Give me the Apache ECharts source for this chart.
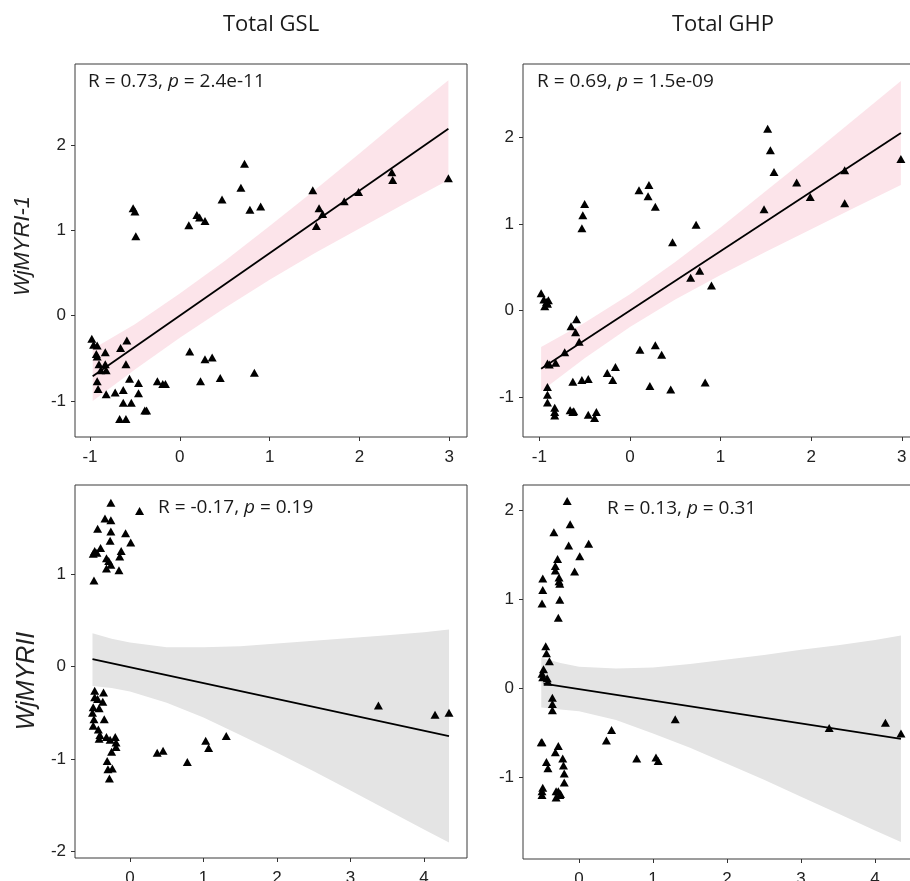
<!DOCTYPE html>
<html><head><meta charset="utf-8">
<script src="https://cdn.jsdelivr.net/npm/echarts@6/dist/echarts.min.js"></script>
<style>html,body{margin:0;padding:0;background:#fff}#c{width:910px;height:881px}</style>
</head><body><div id="c"></div>
<script>
// ---------- DATA ----------
const colTitles = ['Total GSL', 'Total GHP'];
const rowTitles = ['WjMYRI-1', 'WjMYRII'];
const statLabels = [
  ['R = 0.73, ', 'p', ' = 2.4e-11'],
  ['R = 0.69, ', 'p', ' = 1.5e-09'],
  ['R = -0.17, ', 'p', ' = 0.19'],
  ['R = 0.13, ', 'p', ' = 0.31']
];
const ticksXTop = [-1, 0, 1, 2, 3];
const ticksXBottom = [0, 1, 2, 3, 4];
const ticksYA = [-1, 0, 1, 2];
const ticksYB = [-1, 0, 1, 2];
const ticksYC = [-2, -1, 0, 1];
const ticksYD = [-1, 0, 1, 2];

// Panel A: Total GSL vs WjMYRI-1
const pointsA = [
  [0.72,1.78],[0.68,1.50],[0.47,1.36],[0.78,1.24],[0.90,1.28],[0.19,1.18],[0.22,1.15],[0.28,1.11],[0.10,1.06],
  [-0.52,1.26],[-0.50,1.22],[-0.49,0.93],
  [1.48,1.47],[1.55,1.26],[1.59,1.19],[1.52,1.05],[1.83,1.34],[1.99,1.45],[2.36,1.68],[2.37,1.59],[2.99,1.61],
  [-0.98,-0.27],[-0.96,-0.34],[-0.92,-0.35],[-0.93,-0.45],[-0.92,-0.48],[-0.83,-0.43],[-0.90,-0.57],[-0.88,-0.64],
  [-0.83,-0.57],[-0.82,-0.64],[-0.92,-0.77],[-0.91,-0.86],[-0.82,-0.92],[-0.72,-0.90],[-0.66,-0.38],[-0.59,-0.29],
  [-0.60,-0.57],[-0.56,-0.74],[-0.46,-0.79],[-0.46,-0.91],[-0.63,-0.87],[-0.63,-1.02],[-0.54,-1.02],[-0.39,-1.11],
  [-0.37,-1.11],[-0.67,-1.21],[-0.60,-1.21],[-0.25,-0.77],[-0.19,-0.80],[-0.16,-0.80],[0.11,-0.42],[0.28,-0.51],
  [0.36,-0.49],[0.23,-0.77],[0.45,-0.73],[0.83,-0.67]
];
const lineXA = [-0.97, 2.99];
const lineYA = [-0.71, 2.19];
const bandXA = [-0.97,-0.5,0,0.5,1,1.5,2,2.5,2.99];
const upA    = [-0.39,-0.10,0.26,0.64,1.05,1.47,1.90,2.34,2.76];
const loA    = [-1.00,-0.63,-0.26,0.09,0.42,0.73,1.02,1.31,1.59];

// Panel B: Total GHP vs WjMYRI-1
const pointsB = [
  [1.52,2.10],[1.55,1.85],[1.59,1.60],[1.84,1.48],[1.99,1.31],[2.37,1.62],[2.37,1.24],[2.99,1.75],[1.48,1.17],
  [0.10,1.39],[0.21,1.45],[0.20,1.32],[0.28,1.20],[-0.50,1.23],[-0.52,1.10],[-0.53,0.95],[0.73,0.99],[0.47,0.79],
  [0.67,0.38],[0.77,0.46],[0.90,0.29],
  [-0.98,0.20],[-0.95,0.13],[-0.92,0.10],[-0.90,0.12],[-0.94,0.05],[-0.91,0.08],
  [-0.59,-0.10],[-0.65,-0.18],[-0.60,-0.25],[-0.56,-0.36],[-0.72,-0.48],[-0.91,-0.61],[-0.89,-0.62],[-0.82,-0.60],
  [-0.91,-0.88],[-0.91,-0.97],[-0.91,-1.06],[-0.83,-1.12],[-0.83,-1.17],[-0.83,-1.21],[-0.66,-1.15],[-0.62,-1.16],
  [-0.63,-1.17],[-0.63,-0.82],[-0.53,-0.80],[-0.46,-0.79],[-0.46,-1.20],[-0.39,-1.24],[-0.37,-1.17],
  [-0.25,-0.72],[-0.19,-0.80],[-0.16,-0.65],[0.11,-0.45],[0.28,-0.40],[0.35,-0.51],[0.22,-0.87],[0.45,-0.91],[0.83,-0.83]
];
const lineXB = [-0.98, 2.99];
const lineYB = [-0.67, 2.05];
const bandXB = [-0.98,-0.5,0,0.5,1,1.5,2,2.5,2.99];
const upB    = [-0.42,-0.14,0.19,0.56,0.96,1.38,1.80,2.23,2.65];
const loB    = [-0.93,-0.55,-0.19,0.13,0.41,0.68,0.94,1.20,1.45];

// Panel C: Total GSL vs WjMYRII
const pointsC = [
  [-0.26,1.77],[0.13,1.68],[-0.34,1.60],[-0.26,1.58],[-0.44,1.49],[-0.26,1.46],[-0.06,1.44],[-0.27,1.36],[0.01,1.34],
  [-0.40,1.28],[-0.48,1.25],[-0.45,1.23],[-0.50,1.22],[-0.12,1.25],[-0.32,1.17],[-0.29,1.14],[-0.26,1.10],[-0.14,1.19],
  [-0.32,1.06],[-0.15,1.04],[-0.49,0.93],
  [-0.48,-0.26],[-0.36,-0.28],[-0.48,-0.33],[-0.44,-0.35],[-0.37,-0.38],[-0.50,-0.44],[-0.42,-0.45],[-0.51,-0.50],
  [-0.49,-0.57],[-0.35,-0.57],[-0.50,-0.64],[-0.43,-0.68],[-0.41,-0.74],[-0.42,-0.78],[-0.32,-0.76],[-0.27,-0.79],
  [-0.20,-0.76],[-0.19,-0.82],[-0.19,-0.87],[-0.25,-0.92],[-0.31,-1.02],[-0.30,-1.11],[-0.24,-1.10],[-0.28,-1.21],
  [0.37,-0.93],[0.45,-0.91],[0.78,-1.03],[1.03,-0.80],[1.07,-0.88],[1.31,-0.75],[3.38,-0.42],[4.15,-0.52],[4.34,-0.50]
];
const lineXC = [-0.51, 4.34];
const lineYC = [0.08, -0.75];
const bandXC = [-0.51,-0.25,0,0.5,1,1.5,2,2.5,3,3.5,4,4.34];
const upC    = [0.36,0.30,0.26,0.21,0.21,0.22,0.25,0.28,0.31,0.34,0.37,0.40];
const loC    = [-0.21,-0.23,-0.27,-0.39,-0.55,-0.74,-0.93,-1.13,-1.34,-1.55,-1.76,-1.90];

// Panel D: Total GHP vs WjMYRII
const pointsD = [
  [-0.16,2.10],[-0.12,1.84],[-0.34,1.75],[-0.14,1.60],[0.13,1.62],[0.01,1.48],[-0.29,1.45],[-0.32,1.37],[-0.32,1.32],
  [-0.06,1.31],[-0.27,1.24],[-0.27,1.20],[-0.26,1.17],[-0.49,1.23],[-0.49,1.10],[-0.50,0.95],[-0.26,0.99],[-0.28,0.79],
  [-0.45,0.47],[-0.44,0.39],[-0.40,0.30],[-0.48,0.21],[-0.50,0.16],[-0.49,0.12],[-0.43,0.11],[-0.42,0.07],
  [-0.36,-0.11],[-0.36,-0.18],[-0.36,-0.25],
  [-0.51,-0.61],[-0.50,-0.61],[-0.28,-0.65],[-0.32,-0.72],[-0.44,-0.83],[-0.42,-0.90],[-0.22,-0.79],[-0.21,-0.87],
  [-0.20,-0.96],[-0.20,-1.06],[-0.49,-1.12],[-0.50,-1.16],[-0.50,-1.20],[-0.31,-1.16],[-0.28,-1.16],[-0.25,-1.19],
  [-0.31,-1.23],[-0.26,-1.20],
  [0.37,-0.59],[0.44,-0.47],[0.78,-0.79],[1.04,-0.78],[1.07,-0.82],[1.30,-0.35],[3.38,-0.45],[4.14,-0.39],[4.35,-0.51]
];
const lineXD = [-0.48, 4.35];
const lineYD = [0.05, -0.57];
const bandXD = [-0.51,-0.25,0,0.5,1,1.5,2,2.5,3,3.5,4,4.35];
const upD    = [0.34,0.28,0.24,0.22,0.23,0.27,0.32,0.37,0.43,0.48,0.54,0.59];
const loD    = [-0.22,-0.24,-0.26,-0.36,-0.51,-0.67,-0.85,-1.03,-1.22,-1.41,-1.60,-1.73];

// ---------- LAYOUT ----------
const panels = [
  {pts: pointsA, lx: lineXA, ly: lineYA, bx: bandXA, up: upA, lo: loA, band: '#fce4ea', xr: [-1.167, 3.197], yr: [-1.422, 2.949], xt: ticksXTop, yt: ticksYA,
   grid: {left: 75, top: 64, width: 392, height: 373}, stat: [88, 82]},
  {pts: pointsB, lx: lineXB, ly: lineYB, bx: bandXB, up: upB, lo: loB, band: '#fce4ea', xr: [-1.18, 3.19], yr: [-1.458, 2.846], xt: ticksXTop, yt: ticksYB,
   grid: {left: 523, top: 64, width: 396, height: 373}, stat: [537, 82]},
  {pts: pointsC, lx: lineXC, ly: lineYC, bx: bandXC, up: upC, lo: loC, band: '#e4e4e4', xr: [-0.748, 4.585], yr: [-2.068, 1.962], xt: ticksXBottom, yt: ticksYC,
   grid: {left: 75, top: 485, width: 392, height: 373}, stat: [158, 508]},
  {pts: pointsD, lx: lineXD, ly: lineYD, bx: bandXD, up: upD, lo: loD, band: '#e4e4e4', xr: [-0.757, 4.594], yr: [-1.92, 2.28], xt: ticksXBottom, yt: ticksYD,
   grid: {left: 523, top: 485, width: 396, height: 374}, stat: [607, 509]}
];

const tickFont = {fontSize: 17, color: '#222', fontFamily: 'Liberation Sans, Arial, sans-serif'};
const grids = [], xAxes = [], yAxes = [], series = [], graphics = [];

panels.forEach((p, i) => {
  grids.push(Object.assign({show: true, borderColor: '#3a3a3a', borderWidth: 1, backgroundColor: '#fff', outerBoundsMode: 'none', containLabel: false}, p.grid));
  xAxes.push({type: 'value', gridIndex: i, min: p.xr[0], max: p.xr[1], splitLine: {show: false},
    axisLine: {show: false, onZero: false},
    axisTick: {show: true, customValues: p.xt, length: 4, lineStyle: {color: '#333'}},
    axisLabel: Object.assign({customValues: p.xt, margin: 12}, tickFont)});
  yAxes.push({type: 'value', gridIndex: i, min: p.yr[0], max: p.yr[1], splitLine: {show: false},
    axisLine: {show: false, onZero: false},
    axisTick: {show: true, customValues: p.yt, length: 4, lineStyle: {color: '#333'}},
    axisLabel: Object.assign({customValues: p.yt, margin: 9}, tickFont)});
  const bx = p.bx, up = p.up, lo = p.lo, col = p.band;
  series.push({
    type: 'custom', xAxisIndex: i, yAxisIndex: i, z: 1, silent: true, clip: true,
    data: bx.map((x, k) => [x, lo[k], up[k]]),
    renderItem: function (params, api) {
      if (params.dataIndex !== 0) return null;
      const poly = [];
      for (let k = 0; k < bx.length; k++) poly.push(api.coord([bx[k], up[k]]));
      for (let k = bx.length - 1; k >= 0; k--) poly.push(api.coord([bx[k], lo[k]]));
      return {type: 'polygon', shape: {points: poly}, style: {fill: col}};
    }
  });
  series.push({
    type: 'line', xAxisIndex: i, yAxisIndex: i, z: 2, silent: true, symbol: 'none',
    data: p.lx.map((x, k) => [x, p.ly[k]]),
    lineStyle: {color: '#000', width: 1.8}
  });
  series.push({
    type: 'scatter', xAxisIndex: i, yAxisIndex: i, z: 3, silent: true,
    symbol: 'triangle', symbolSize: [9, 8],
    itemStyle: {color: '#000', opacity: 1},
    data: p.pts
  });
  const s = statLabels[i];
  graphics.push({
    type: 'text', x: p.stat[0], y: p.stat[1], z: 10,
    style: {
      text: '{a|' + s[0] + '}{b|' + s[1] + '}{a|' + s[2] + '}',
      verticalAlign: 'middle', align: 'left',
      rich: {
        a: {fontSize: 19, fontFamily: 'Open Sans, sans-serif', fill: '#1a1a1a', color: '#1a1a1a'},
        b: {fontSize: 19, fontFamily: 'Open Sans, sans-serif', fontStyle: 'italic', fill: '#1a1a1a', color: '#1a1a1a'}
      }
    }
  });
});

graphics.push({type: 'text', x: 271, y: 25, style: {text: colTitles[0], fontSize: 22, fontFamily: 'Open Sans, sans-serif', fill: '#1a1a1a', align: 'center', verticalAlign: 'middle'}});
graphics.push({type: 'text', x: 723, y: 25, style: {text: colTitles[1], fontSize: 22, fontFamily: 'Open Sans, sans-serif', fill: '#1a1a1a', align: 'center', verticalAlign: 'middle'}});
graphics.push({type: 'text', x: 23, y: 246, rotation: Math.PI / 2, style: {text: rowTitles[0], fontSize: 22, fontStyle: 'italic', fontFamily: 'Liberation Sans, Arial, sans-serif', fill: '#222', align: 'center', verticalAlign: 'middle'}});
graphics.push({type: 'text', x: 27, y: 681, rotation: Math.PI / 2, style: {text: rowTitles[1], fontSize: 25, fontStyle: 'italic', fontFamily: 'Liberation Sans, Arial, sans-serif', fill: '#222', align: 'center', verticalAlign: 'middle'}});

const chart = echarts.init(document.getElementById('c'), null, {renderer: 'canvas'});
chart.setOption({
  animation: false,
  backgroundColor: '#fff',
  grid: grids, xAxis: xAxes, yAxis: yAxes, series: series, graphic: graphics
});
</script></body></html>
